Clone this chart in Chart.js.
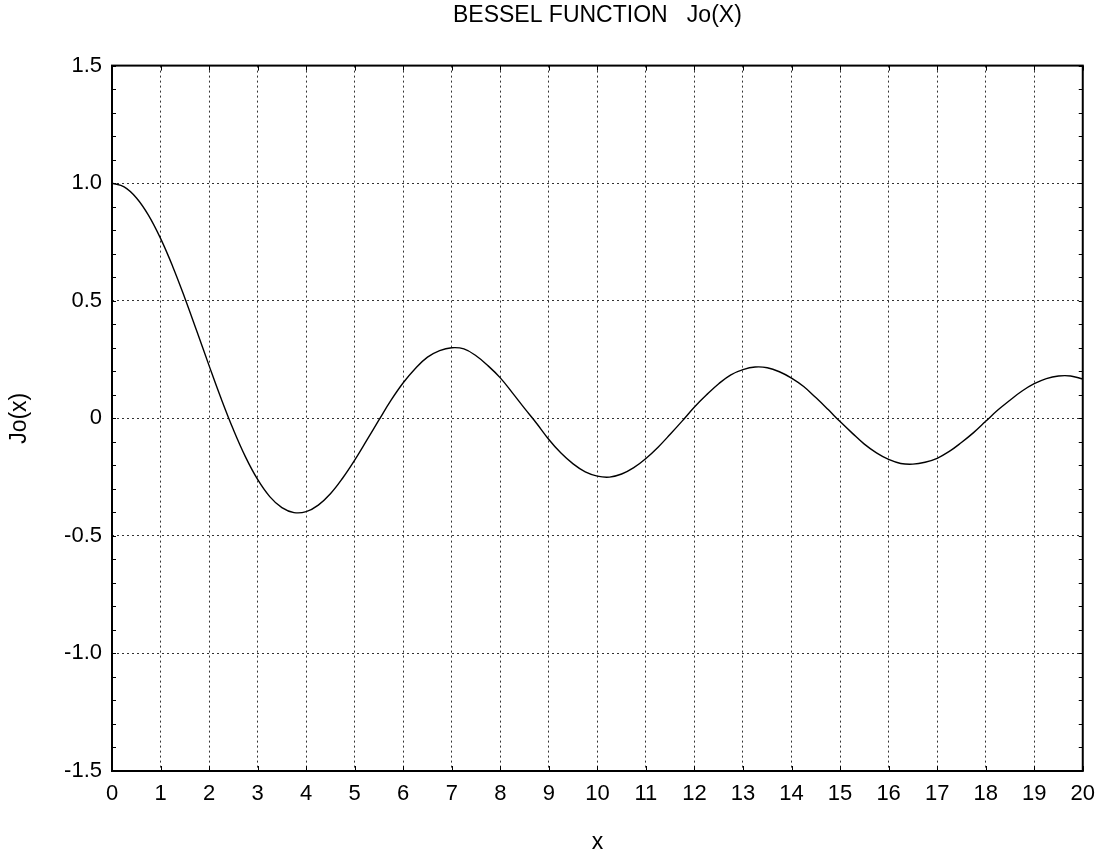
<!DOCTYPE html>
<html>
<head>
<meta charset="utf-8">
<script src="https://cdn.jsdelivr.net/npm/chart.js@4"></script>
<style>
  html, body { margin: 0; padding: 0; background: #fff; }
  #wrap { width: 1105px; height: 854px; }
</style>
</head>
<body>
<div id="wrap"><canvas id="myChart" width="1105" height="854"></canvas></div>
<script>
  // values, every 0.25 in x
  const xValues = [0, 0.25, 0.5, 0.75, 1, 1.25, 1.5, 1.75, 2, 2.25, 2.5, 2.75, 3, 3.25, 3.5, 3.75,
    4, 4.25, 4.5, 4.75, 5, 5.25, 5.5, 5.75, 6, 6.25, 6.5, 6.75, 7, 7.25, 7.5, 7.75,
    8, 8.25, 8.5, 8.75, 9, 9.25, 9.5, 9.75, 10, 10.25, 10.5, 10.75, 11, 11.25, 11.5, 11.75,
    12, 12.25, 12.5, 12.75, 13, 13.25, 13.5, 13.75, 14, 14.25, 14.5, 14.75, 15, 15.25, 15.5, 15.75,
    16, 16.25, 16.5, 16.75, 17, 17.25, 17.5, 17.75, 18, 18.25, 18.5, 18.75, 19, 19.25, 19.5, 19.75, 20];
  const j0Values = [1.0, 0.984, 0.938, 0.864, 0.765, 0.646, 0.512, 0.369, 0.224, 0.083, -0.048, -0.164,
    -0.260, -0.333, -0.380, -0.401, -0.397, -0.369, -0.321, -0.255, -0.178, -0.093, -0.007, 0.077,
    0.151, 0.212, 0.260, 0.288, 0.300, 0.295, 0.266, 0.223, 0.172, 0.108, 0.042, -0.022,
    -0.090, -0.148, -0.194, -0.228, -0.246, -0.250, -0.237, -0.210, -0.171, -0.123, -0.068, -0.011,
    0.048, 0.100, 0.147, 0.185, 0.207, 0.218, 0.215, 0.198, 0.171, 0.135, 0.088, 0.038,
    -0.014, -0.063, -0.110, -0.147, -0.175, -0.192, -0.195, -0.187, -0.170, -0.141, -0.103, -0.061,
    -0.013, 0.035, 0.077, 0.116, 0.147, 0.169, 0.180, 0.180, 0.167];
  const yTickLabels = ['-1.5', '-1.0', '-0.5', '0', '0.5', '1.0', '1.5'];

  const points = xValues.map((x, i) => ({ x: x, y: j0Values[i] }));
  const FONT = 'Arial, "Liberation Sans", sans-serif';

  // frame plus small inward ticks on all four sides
  const frameTicks = {
    id: 'frameTicks',
    afterDraw(chart) {
      const { ctx, chartArea: a, scales } = chart;
      ctx.save();
      ctx.strokeStyle = '#000';
      ctx.lineWidth = 1;
      ctx.beginPath();
      for (let i = -15; i <= 15; i++) {
        const py = Math.round(scales.y.getPixelForValue(i / 10)) + 0.5;
        ctx.moveTo(a.left, py); ctx.lineTo(a.left + 4, py);
        ctx.moveTo(a.right, py); ctx.lineTo(a.right - 4, py);
      }
      for (let i = 0; i <= 20; i++) {
        const px = Math.round(scales.x.getPixelForValue(i)) + 0.5;
        ctx.moveTo(px, a.top); ctx.lineTo(px, a.top + 5);
        ctx.moveTo(px, a.bottom); ctx.lineTo(px, a.bottom - 5);
      }
      ctx.stroke();
      ctx.lineWidth = 2;
      ctx.strokeRect(a.left, a.top, a.right - a.left, a.bottom - a.top);
      ctx.restore();
    }
  };

  const gridColor = (c) => (c.index === 0 || c.index === c.scale.ticks.length - 1) ? 'rgba(0,0,0,0)' : '#333';

  const ctx = document.getElementById('myChart').getContext('2d');
  const myChart = new Chart(ctx, {
    type: 'line',
    data: {
      datasets: [{
        label: 'Jo(x)',
        data: points,
        borderColor: '#000',
        borderWidth: 1.4,
        pointRadius: 0,
        tension: 0.4,
        fill: false
      }]
    },
    options: {
      responsive: false,
      animation: false,
      layout: { padding: { left: 0, right: 18, top: 0, bottom: 0 } },
      plugins: {
        legend: { display: false },
        tooltip: { enabled: false },
        title: {
          display: true,
          fullSize: false,
          text: 'BESSEL FUNCTION   Jo(X)',
          color: '#000',
          font: { family: FONT, size: 23, weight: 'normal' },
          padding: { top: 2, bottom: 36 }
        }
      },
      scales: {
        x: {
          type: 'linear',
          min: 0,
          max: 20,
          ticks: { stepSize: 1, color: '#000', padding: 10, font: { family: FONT, size: 22 } },
          grid: { color: gridColor, drawTicks: false, lineWidth: 1 },
          border: { display: false, dash: [2, 3] },
          title: { display: true, text: 'x', color: '#000', font: { family: FONT, size: 23, lineHeight: 1 }, padding: { top: 0, bottom: 0 } },
          afterFit(scale) { scale.height = 83; }
        },
        y: {
          min: -1.5,
          max: 1.5,
          ticks: {
            stepSize: 0.5,
            color: '#000',
            padding: 10,
            font: { family: FONT, size: 22 },
            callback: (v, i) => yTickLabels[i]
          },
          grid: { color: gridColor, drawTicks: false, lineWidth: 1 },
          border: { display: false, dash: [2, 3] },
          title: { display: true, text: 'Jo(x)', color: '#000', font: { family: FONT, size: 23 }, padding: { top: 6, bottom: 0 } },
          afterFit(scale) { scale.width = 112; }
        }
      }
    },
    plugins: [frameTicks]
  });
</script>
</body>
</html>
